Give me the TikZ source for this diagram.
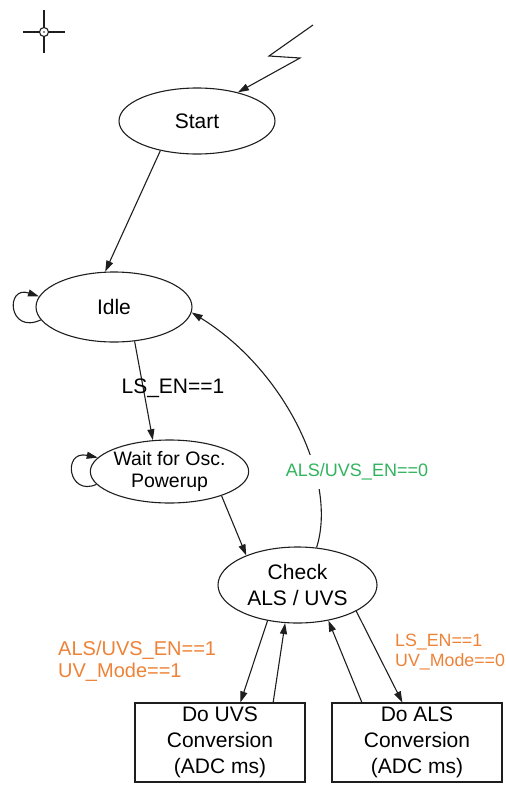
\documentclass[tikz,border=0pt]{standalone}
\usepackage{fontspec}
\setmainfont{Liberation Sans}
\usetikzlibrary{shapes.geometric,arrows.meta}
\definecolor{lgreen}{RGB}{50,180,95}
\definecolor{lorange}{RGB}{238,130,55}
\definecolor{ink}{RGB}{30,30,30}
\begin{document}
\begin{tikzpicture}[x=1pt,y=-1pt,
  state/.style={ellipse,draw=ink,line width=1.1pt,inner sep=0pt,align=center,font=\fontsize{21}{26}\selectfont},
  proc/.style={rectangle,draw=ink,line width=1.1pt,minimum width=170pt,minimum height=79pt,inner sep=0pt,align=center,font=\fontsize{21}{26}\selectfont},
  edge/.style={draw=ink,line width=1.1pt,-{Triangle[length=11pt,width=7pt]}},
  blacklabel/.style={font=\fontsize{21}{26}\selectfont,inner sep=1pt},
  greenlabel/.style={text=lgreen,fill=white,font=\fontsize{18}{20}\selectfont,inner xsep=2pt,inner ysep=9pt},
  orangelabel/.style={text=lorange,align=left,inner sep=0pt}]
\useasboundingbox (0,0) rectangle (506,785);
\clip (0,0) rectangle (506,785);

% crosshair
\coordinate (cross) at (44,32);
\draw[ink,line width=1.1pt] (cross) circle[radius=4.5pt];
\fill[ink] (cross) circle[radius=0.8pt];
\draw[ink,line width=1.1pt] (23,32) -- (39.5,32) (48.5,32) -- (65,32)
  (44,10) -- (44,27.5) (44,36.5) -- (44,53);

% states
\node[state,minimum width=156pt,minimum height=66pt] (start) at (197,121) {Start};
\node[state,minimum width=156pt,minimum height=70pt] (idle) at (114,307) {Idle};
\node[state,minimum width=154pt,minimum height=63pt,font=\fontsize{19.5}{22}\selectfont] (wait) at (169.5,471.5) {Wait for Osc.\\Powerup};
\node[state,minimum width=159pt,minimum height=76pt] (check) at (297.5,585) {Check\\ALS / UVS};
\node[proc] (uvs) at (220,742.5) {Do UVS\\Conversion\\(ADC ms)};
\node[proc] (als) at (417,742.5) {Do ALS\\Conversion\\(ADC ms)};

% lightning (entry)
\coordinate (z1) at (313,25);
\coordinate (z2) at (269,56);
\coordinate (z3) at (300,58);
\draw[edge] (z1) -- (z2) -- (z3) -- (start.35);

% transitions
\draw[edge] (start.219) -- (idle.104);
\draw[edge] (idle.190) .. controls (8,335) and (5,285) .. (idle.172);
\draw[edge] (idle.-59) -- (wait.118);
\node[blacklabel] (lsen) at (173,388) {LS\_EN==1};
\draw[edge] (wait.190) .. controls (68,497) and (62,450) .. (wait.169);
\draw[edge] (wait.-25) -- (check.150);
\draw[edge] (check.63) .. controls (338,480) and (285,370) .. (idle.-4);
\node[greenlabel] (off) at (357,472) {ALS/UVS\_EN==0};

\draw[edge] (check.230) -- (uvs.63);
\draw[edge] (uvs.37) -- (check.252);
\draw[edge] (als.144) -- (check.-49);
\draw[edge] (check.-24) -- (als.110);

\node[orangelabel,anchor=west,font=\fontsize{20}{22}\selectfont] (uvcond) at (58,661) {ALS/UVS\_EN==1\\UV\_Mode==1};
\node[orangelabel,anchor=west,font=\fontsize{17.8}{20}\selectfont] (alscond) at (395,652) {LS\_EN==1\\UV\_Mode==0};
\end{tikzpicture}
\end{document}
